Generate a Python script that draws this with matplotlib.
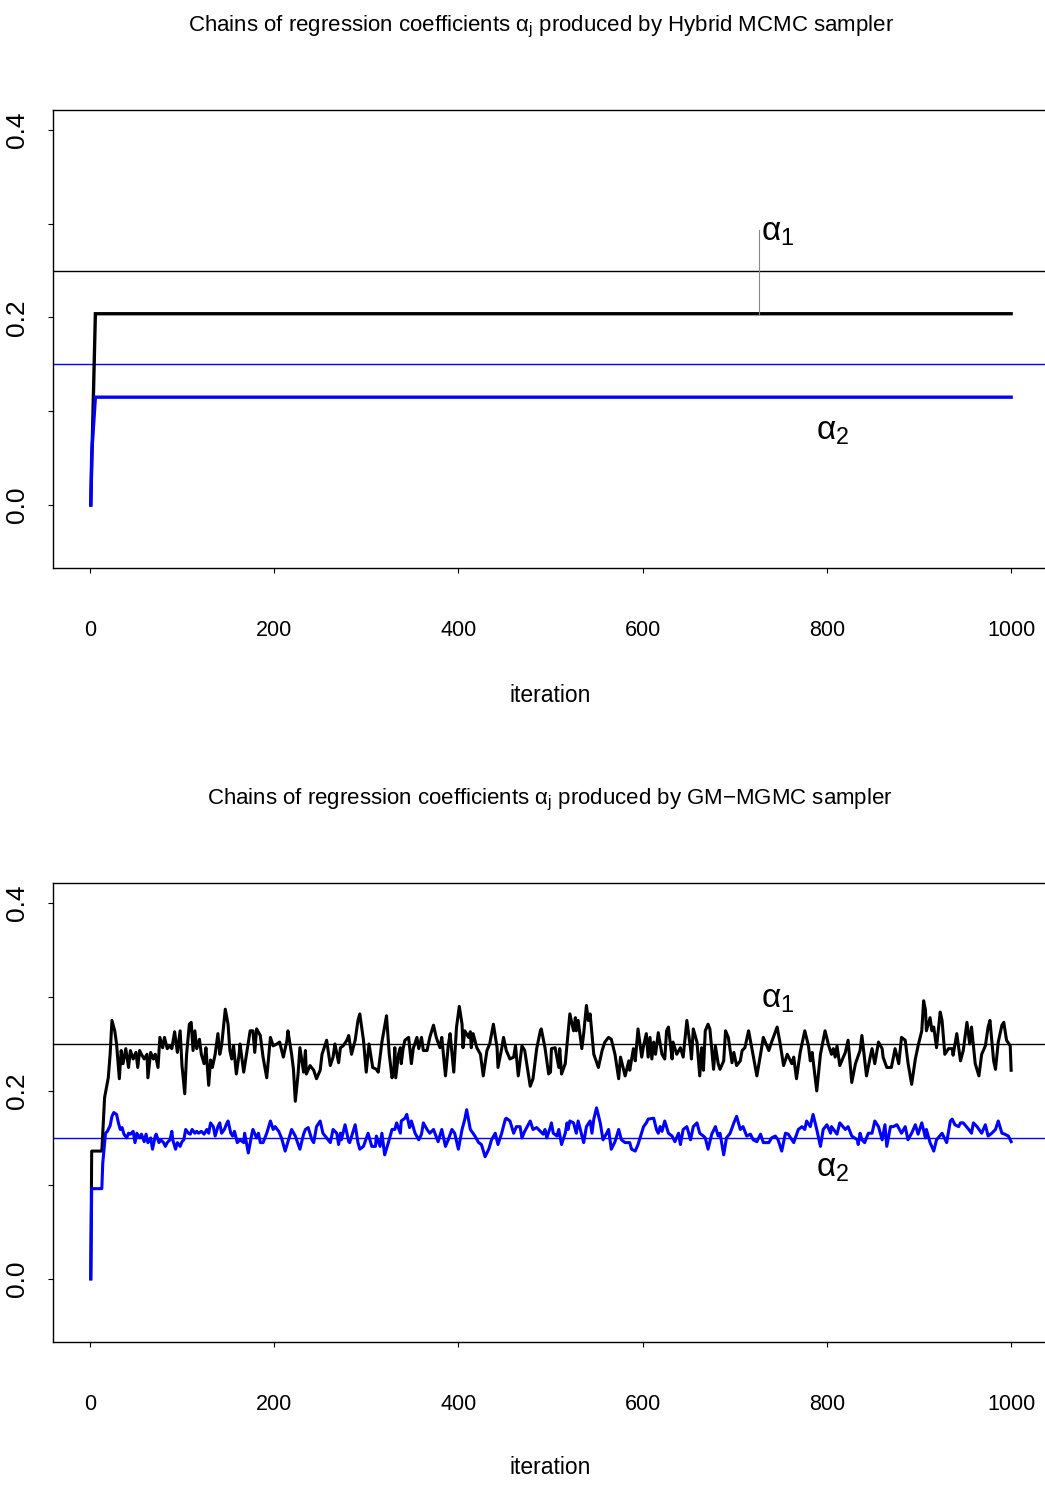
import numpy as np
import matplotlib
matplotlib.use("Agg")
from matplotlib import pyplot as plt

plt.rcParams['font.family'] = ['Liberation Sans', 'DejaVu Sans']
plt.rcParams['mathtext.fontset'] = 'custom'
plt.rcParams['mathtext.rm'] = 'Liberation Sans'
plt.rcParams['mathtext.it'] = 'Liberation Sans'

# true values of the coefficients
true_a1 = 0.25
true_a2 = 0.15

# Hybrid MCMC chains (stuck after a few iterations)
hyb_it1 = [1, 6, 1000]
hyb_a1 = [0.0, 0.204, 0.204]
hyb_it2 = [1, 2, 6, 1000]
hyb_a2 = [0.0, 0.055, 0.115, 0.115]
hyb_mark_it = 726
hyb_mark_top = 0.293

# GM-MGMC chains
gm_it1 = [1, 2, 13,
          16, 20, 22, 24, 27, 29, 32, 34, 36, 39, 42, 44, 47, 50, 52, 54, 56, 59, 62, 63,
          66, 69, 71, 74, 76, 79, 81, 84, 87, 89, 92, 95, 98, 100, 103, 105, 108, 110, 112, 114,
          116, 119, 121, 124, 126, 129, 131, 133, 136, 139, 141, 143, 145, 147, 150, 152, 154, 156, 159, 162,
          163, 167, 170, 174, 177, 179, 181, 185, 188, 192, 196, 199, 203, 206, 210, 214, 215, 219, 221, 223,
          226, 228, 232, 234, 235, 239, 243, 246, 250, 252, 257, 261, 264, 266, 270, 272, 275, 279, 281, 284,
          288, 291, 293, 297, 300, 303, 307, 311, 313, 317, 322, 325, 328, 330,
          331, 332, 335, 337, 338, 340, 342, 346, 349, 351, 355, 357, 360, 362, 366, 369, 373, 376, 380, 382,
          386, 389, 391, 395, 398, 401, 404, 405, 407, 411, 413, 414, 416, 420, 424, 427, 431, 434, 438, 442,
          443, 447, 449, 452, 456, 460, 462, 465, 469, 472, 476, 478, 481, 485, 489, 490, 494, 498,
          500, 501, 505, 509, 510, 512, 516, 518, 521, 525, 527, 528, 530, 534, 536, 539, 541, 543, 547, 552,
          556, 559, 563, 566, 570, 574, 576, 581, 585, 586, 590, 592, 595, 599, 601, 604, 606, 608, 610, 612,
          614, 617, 621, 624, 626, 628, 632, 633, 637, 641, 644, 648, 652, 653, 655, 659, 662, 664, 666,
          668, 671, 673, 677, 679, 682, 684, 688, 690, 693, 697, 699, 702, 706, 708, 711, 715, 719, 724, 728,
          731, 737, 740, 746, 749, 753, 757, 762, 764, 767, 771, 776, 780, 782, 784, 789, 793, 798, 802, 805,
          807, 809, 811, 814, 820, 823, 827, 831,
          836, 838, 843, 847, 849, 852, 856, 860, 861, 865, 870, 874, 878, 881, 885, 888, 892, 896, 899, 903,
          905, 907, 908, 912, 914, 916, 919, 923, 925, 928, 932, 936, 937, 941, 945, 948, 952, 955, 957, 961,
          965, 968, 972, 975, 977, 981, 983, 986, 990, 992, 995, 999, 1000]
gm_a1 = [0.0, 0.136, 0.136,
         0.193, 0.214, 0.239, 0.275, 0.264, 0.250, 0.213, 0.243, 0.229, 0.245, 0.225, 0.243, 0.234, 0.241, 0.225, 0.243, 0.239, 0.234, 0.239, 0.214,
         0.241, 0.234, 0.239, 0.225, 0.257, 0.246, 0.257, 0.245, 0.248, 0.245, 0.263, 0.241, 0.264, 0.227, 0.197, 0.239, 0.271, 0.273, 0.243, 0.264,
         0.245, 0.255, 0.239, 0.229, 0.246, 0.206, 0.233, 0.225, 0.239, 0.261, 0.239, 0.248, 0.268, 0.287, 0.271, 0.243, 0.234, 0.248, 0.218, 0.239,
         0.250, 0.220, 0.239, 0.264, 0.264, 0.241, 0.266, 0.259, 0.236, 0.214, 0.257, 0.248, 0.250, 0.252, 0.236, 0.254, 0.264, 0.239, 0.223, 0.189,
         0.218, 0.246, 0.220, 0.243, 0.218, 0.227, 0.222, 0.213, 0.222, 0.239, 0.254, 0.227, 0.236, 0.250, 0.230, 0.246, 0.248, 0.254, 0.259, 0.239,
         0.254, 0.275, 0.282, 0.254, 0.220, 0.250, 0.225, 0.223, 0.220, 0.252, 0.280, 0.239, 0.214, 0.223,
         0.246, 0.214, 0.239, 0.246, 0.229, 0.245, 0.254, 0.257, 0.229, 0.245, 0.257, 0.245, 0.257, 0.243, 0.243, 0.257, 0.270, 0.257, 0.246, 0.257,
         0.216, 0.248, 0.261, 0.220, 0.268, 0.290, 0.271, 0.246, 0.264, 0.257, 0.263, 0.246, 0.261, 0.246, 0.239, 0.216, 0.243, 0.250, 0.271, 0.246,
         0.225, 0.245, 0.257, 0.243, 0.234, 0.236, 0.248, 0.216, 0.248, 0.243, 0.218, 0.205, 0.213, 0.245, 0.264, 0.266, 0.246, 0.218,
         0.220, 0.245, 0.246, 0.225, 0.245, 0.218, 0.229, 0.250, 0.282, 0.264, 0.278, 0.264, 0.275, 0.245, 0.261, 0.291, 0.275, 0.282, 0.239, 0.225,
         0.243, 0.252, 0.257, 0.255, 0.239, 0.213, 0.236, 0.216, 0.232, 0.222, 0.245, 0.232, 0.266, 0.236, 0.248, 0.261, 0.236, 0.257, 0.234, 0.252,
         0.239, 0.262, 0.239, 0.234, 0.264, 0.268, 0.234, 0.252, 0.239, 0.246, 0.236, 0.275, 0.245, 0.234, 0.266, 0.252, 0.216, 0.246, 0.222,
         0.264, 0.271, 0.266, 0.223, 0.248, 0.229, 0.223, 0.232, 0.264, 0.257, 0.230, 0.241, 0.227, 0.232, 0.243, 0.246, 0.264, 0.243, 0.216, 0.239,
         0.257, 0.243, 0.252, 0.268, 0.252, 0.227, 0.239, 0.229, 0.236, 0.213, 0.241, 0.264, 0.248, 0.232, 0.241, 0.200, 0.239, 0.264, 0.248, 0.239,
         0.245, 0.236, 0.248, 0.227, 0.241, 0.254, 0.209, 0.229,
         0.243, 0.259, 0.216, 0.236, 0.245, 0.229, 0.252, 0.245, 0.236, 0.225, 0.225, 0.245, 0.229, 0.257, 0.254, 0.230, 0.207, 0.234, 0.248, 0.264,
         0.296, 0.286, 0.264, 0.278, 0.264, 0.268, 0.246, 0.284, 0.275, 0.239, 0.245, 0.245, 0.238, 0.261, 0.232, 0.243, 0.273, 0.250, 0.268, 0.229,
         0.216, 0.239, 0.248, 0.268, 0.275, 0.232, 0.223, 0.252, 0.270, 0.273, 0.254, 0.248, 0.222]

gm_it2 = [1, 2, 13, 14,
          16, 17, 19, 22, 24, 26, 29, 31, 33, 35, 37, 40, 42, 44, 47, 49, 51, 54, 56, 59, 61, 63, 66, 68, 71, 72,
          75, 77, 80, 82, 84, 87, 89, 90, 93, 95, 98, 100, 102, 104, 107, 109, 111, 114, 116, 118, 121, 124, 127, 129,
          131, 134, 136, 139, 141, 143, 146, 148, 150, 153, 155, 157, 160,
          163, 167, 168, 172, 176, 177, 181, 183, 185, 188, 192, 196, 199, 201, 205, 208, 212, 215, 219, 223,
          228, 232, 234, 237, 241, 243, 246, 250, 253, 257, 261, 264, 268, 270, 272, 273, 277, 281, 282, 288,
          291, 293, 297, 302, 306, 310, 311, 315, 317, 320, 324, 328,
          331, 333, 337, 338, 342, 344, 347, 349, 353, 357, 360, 362, 366, 369, 373, 378, 382, 386, 389, 393,
          396, 400, 404, 407, 409, 413, 418, 422, 425, 429, 433, 436, 440, 443, 447, 451, 452, 456, 460, 463,
          467, 469, 472, 478, 481, 485, 489, 492, 494, 496,
          500, 501, 503, 507, 509, 512, 516, 518, 519, 521, 525, 528, 530, 536, 539, 543, 545, 547, 550, 554,
          557, 561, 563, 566, 570, 574, 577, 581, 586, 588, 592, 595, 601, 604, 606, 612, 615, 617, 619, 621,
          624, 628, 632, 635, 639, 641, 644, 648, 652, 655, 659, 662, 666,
          668, 671, 675, 679, 682, 684, 688, 691, 695, 699, 702, 706, 709, 713, 717, 720, 724, 728, 731, 737,
          740, 744, 747, 751, 755, 758, 764, 769, 773, 776, 778, 782, 785, 789, 793, 796, 800, 804, 805, 811,
          814, 820, 823, 827, 833, 834,
          836, 838, 841, 845, 849, 852, 856, 860, 863, 865, 869, 872, 876, 881, 885, 888, 892, 896, 899, 903,
          907, 908, 912, 916, 919, 925, 930, 934, 936, 939, 943, 945, 948, 954, 957, 959, 963, 968, 972, 975,
          979, 983, 986, 990, 993, 997, 1000]
gm_a2 = [0.0, 0.096, 0.096, 0.123,
         0.145, 0.155, 0.157, 0.163, 0.173, 0.177, 0.175, 0.166, 0.159, 0.161, 0.154, 0.150, 0.155, 0.154, 0.157, 0.145, 0.155, 0.150, 0.154, 0.146, 0.154, 0.145, 0.150, 0.138, 0.152, 0.154,
         0.145, 0.148, 0.145, 0.141, 0.145, 0.148, 0.157, 0.148, 0.138, 0.145, 0.141, 0.146, 0.148, 0.159, 0.155, 0.154, 0.159, 0.155, 0.157, 0.155, 0.157, 0.154, 0.159, 0.155,
         0.166, 0.162, 0.152, 0.162, 0.166, 0.155, 0.159, 0.164, 0.168, 0.155, 0.152, 0.157, 0.145,
         0.148, 0.145, 0.155, 0.134, 0.155, 0.159, 0.150, 0.155, 0.145, 0.145, 0.155, 0.168, 0.159, 0.162, 0.157, 0.150, 0.136, 0.146, 0.159, 0.152,
         0.138, 0.154, 0.159, 0.161, 0.148, 0.145, 0.162, 0.168, 0.155, 0.150, 0.145, 0.159, 0.155, 0.143, 0.155, 0.148, 0.164, 0.146, 0.145, 0.164,
         0.145, 0.138, 0.141, 0.155, 0.141, 0.141, 0.152, 0.141, 0.155, 0.132, 0.145, 0.159,
         0.159, 0.166, 0.155, 0.168, 0.171, 0.175, 0.161, 0.168, 0.155, 0.148, 0.154, 0.166, 0.159, 0.155, 0.159, 0.146, 0.159, 0.141, 0.148, 0.159,
         0.155, 0.138, 0.159, 0.170, 0.180, 0.159, 0.152, 0.145, 0.143, 0.130, 0.138, 0.148, 0.155, 0.143, 0.155, 0.170, 0.171, 0.168, 0.155, 0.162,
         0.162, 0.150, 0.157, 0.168, 0.159, 0.161, 0.157, 0.154, 0.159, 0.150,
         0.162, 0.166, 0.155, 0.152, 0.159, 0.143, 0.155, 0.166, 0.159, 0.168, 0.166, 0.155, 0.168, 0.145, 0.162, 0.168, 0.155, 0.170, 0.182, 0.166,
         0.148, 0.155, 0.159, 0.138, 0.146, 0.159, 0.148, 0.145, 0.145, 0.138, 0.136, 0.143, 0.162, 0.166, 0.170, 0.171, 0.159, 0.155, 0.162, 0.157,
         0.168, 0.155, 0.152, 0.146, 0.155, 0.143, 0.159, 0.162, 0.148, 0.162, 0.166, 0.155, 0.152,
         0.150, 0.138, 0.154, 0.162, 0.152, 0.155, 0.132, 0.150, 0.155, 0.166, 0.173, 0.159, 0.162, 0.152, 0.154, 0.148, 0.146, 0.154, 0.145, 0.145,
         0.150, 0.152, 0.148, 0.136, 0.155, 0.154, 0.145, 0.159, 0.162, 0.159, 0.168, 0.162, 0.175, 0.159, 0.141, 0.159, 0.164, 0.155, 0.162, 0.154,
         0.166, 0.159, 0.162, 0.152, 0.148, 0.143,
         0.155, 0.148, 0.145, 0.155, 0.155, 0.168, 0.162, 0.148, 0.164, 0.141, 0.162, 0.162, 0.164, 0.155, 0.162, 0.148, 0.155, 0.164, 0.154, 0.166,
         0.150, 0.159, 0.145, 0.136, 0.148, 0.155, 0.145, 0.168, 0.170, 0.164, 0.162, 0.166, 0.166, 0.159, 0.155, 0.166, 0.162, 0.155, 0.164, 0.152,
         0.155, 0.159, 0.168, 0.155, 0.154, 0.152, 0.146]

assert len(gm_it1) == len(gm_a1), (len(gm_it1), len(gm_a1))
assert len(gm_it2) == len(gm_a2), (len(gm_it2), len(gm_a2))

xticks = [0, 200, 400, 600, 800, 1000]
yticks = [0.0, 0.1, 0.2, 0.3, 0.4]
ytick_labels = ['0.0', '', '0.2', '', '0.4']

W, H = 1045, 1485
fig = plt.figure(figsize=(W / 100, H / 100), dpi=100)


def panel(top, bottom):
    ax = fig.add_axes([53 / W, 1 - bottom / H, (1048 - 53) / W, (bottom - top) / H])
    ax.set_xlim(-40, 1040)
    ax.set_ylim(-0.0672, 0.4213)
    ax.spines['right'].set_visible(False)
    for s in ['left', 'bottom', 'top']:
        ax.spines[s].set_linewidth(1.0)
    ax.set_xticks(xticks)
    ax.set_xticklabels([str(t) for t in xticks], fontsize=15.5)
    ax.set_yticks(yticks)
    ax.set_yticklabels(ytick_labels, fontsize=19, rotation=90, va='center')
    ax.tick_params(axis='x', length=3.5, width=0.8, pad=34)
    ax.tick_params(axis='y', length=3.5, width=0.8, pad=14)
    ax.axhline(true_a1, color='black', lw=1.0)
    ax.axhline(true_a2, color='#0000ff', lw=1.0)
    return ax


ax1 = panel(110, 568)
ax1.plot(hyb_it1, hyb_a1, color='black', lw=2.4, solid_joinstyle='miter')
ax1.plot(hyb_it2, hyb_a2, color='#0000ff', lw=2.4, solid_joinstyle='miter')
ax1.plot([hyb_mark_it, hyb_mark_it], [hyb_a1[-1], hyb_mark_top], color='#888888', lw=0.8)
ax1.text(729, 0.291, r'$\alpha_1$', fontsize=24, ha='left', va='center')
ax1.text(788, 0.078, r'$\alpha_2$', fontsize=24, ha='left', va='center')

ax2 = panel(883, 1342)
ax2.plot(gm_it1, gm_a1, color='black', lw=2.2)
ax2.plot(gm_it2, gm_a2, color='#0000ff', lw=2.2)
ax2.text(729, 0.297, r'$\alpha_1$', fontsize=24, ha='left', va='center')
ax2.text(788, 0.117, r'$\alpha_2$', fontsize=24, ha='left', va='center')

fig.text(541 / W, 1 - 27 / H,
         r'Chains of regression coefficients $\alpha_j$ produced by Hybrid MCMC sampler',
         fontsize=16, ha='center', va='center')
fig.text(550 / W, 1 - 800 / H,
         'Chains of regression coefficients $\\alpha_j$ produced by GM\u2212MGMC sampler',
         fontsize=16, ha='center', va='center')
fig.text(550 / W, 1 - 695 / H, 'iteration', fontsize=16.5, ha='center', va='center')
fig.text(550 / W, 1 - 1468 / H, 'iteration', fontsize=16.5, ha='center', va='center')

fig.savefig('out.png', dpi=100)
